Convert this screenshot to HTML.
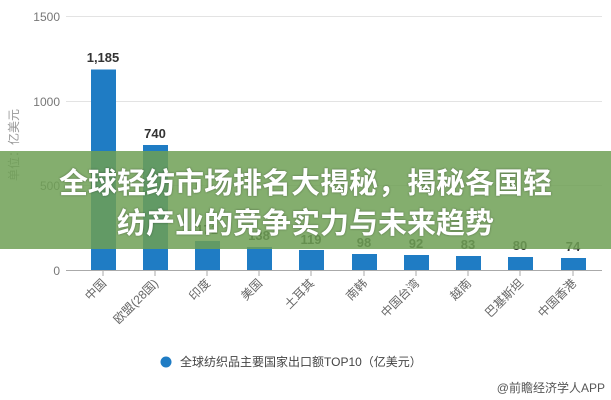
<!DOCTYPE html>
<html><head><meta charset="utf-8"><style>
body{margin:0;width:611px;height:400px;background:#fff;overflow:hidden;font-family:"Liberation Sans","Noto Sans CJK SC",sans-serif;position:relative}
svg{position:absolute;left:0;top:0}
.banner{position:absolute;left:0;top:151px;width:611px;height:98px;background:rgba(110,160,85,0.85);color:#fff;font-weight:bold;font-size:29px;line-height:40px;text-align:center;padding-top:10px;box-sizing:border-box;font-family:"Noto Sans CJK SC",sans-serif;text-shadow:0 0 2px rgba(0,0,0,0.4)}
</style></head><body>
<svg width="611" height="400" font-family="Liberation Sans, Noto Sans CJK SC, sans-serif">
<g stroke="#e3e3e3" stroke-width="1">
<line x1="66" x2="602" y1="16.5" y2="16.5"/><line x1="66" x2="602" y1="101.5" y2="101.5"/><line x1="66" x2="602" y1="185.5" y2="185.5"/>
</g>
<line x1="66" x2="602" y1="270.5" y2="270.5" stroke="#aaa"/>
<g fill="#777" font-size="12" text-anchor="end">
<text x="60" y="21">1500</text><text x="60" y="106">1000</text><text x="60" y="190">500</text><text x="60" y="275">0</text>
</g>
<text transform="translate(18,145) rotate(-90)" font-size="12" fill="#999" text-anchor="middle">单位：亿美元</text>
<g fill="#1f7cc4">
<rect x="91" y="69.5" width="25" height="200.5"/>
<rect x="143" y="145" width="25" height="125"/>
<rect x="195" y="241" width="25" height="29"/>
<rect x="247" y="247" width="25" height="23"/>
<rect x="299" y="250" width="25" height="20"/>
<rect x="352" y="254" width="25" height="16"/>
<rect x="404" y="255" width="25" height="15"/>
<rect x="456" y="256" width="25" height="14"/>
<rect x="508" y="257" width="25" height="13"/>
<rect x="561" y="258" width="25" height="12"/>
</g>
<g font-size="13" font-weight="bold" fill="#333" text-anchor="middle">
<text x="103" y="62">1,185</text><text x="155" y="138">740</text><text x="207" y="234">171</text><text x="259" y="240">138</text><text x="311" y="244">119</text><text x="364" y="247">98</text><text x="416" y="248">92</text><text x="468" y="249">83</text><text x="520" y="250">80</text><text x="573" y="251">74</text>
</g>
<g stroke="#aaa"><line x1="103" x2="103" y1="270" y2="276"/><line x1="155" x2="155" y1="270" y2="276"/><line x1="207" x2="207" y1="270" y2="276"/><line x1="259" x2="259" y1="270" y2="276"/><line x1="311" x2="311" y1="270" y2="276"/><line x1="364" x2="364" y1="270" y2="276"/><line x1="416" x2="416" y1="270" y2="276"/><line x1="468" x2="468" y1="270" y2="276"/><line x1="520" x2="520" y1="270" y2="276"/><line x1="573" x2="573" y1="270" y2="276"/></g>
<g font-size="12" fill="#666" text-anchor="end">
<text transform="translate(107,284) rotate(-45)">中国</text>
<text transform="translate(159,284) rotate(-45)">欧盟(28国)</text>
<text transform="translate(211,284) rotate(-45)">印度</text>
<text transform="translate(263,284) rotate(-45)">美国</text>
<text transform="translate(315,284) rotate(-45)">土耳其</text>
<text transform="translate(368,284) rotate(-45)">南韩</text>
<text transform="translate(420,284) rotate(-45)">中国台湾</text>
<text transform="translate(472,284) rotate(-45)">越南</text>
<text transform="translate(524,284) rotate(-45)">巴基斯坦</text>
<text transform="translate(577,284) rotate(-45)">中国香港</text>
</g>
<circle cx="166" cy="362" r="5.5" fill="#1f7cc4"/>
<text x="180" y="366" font-size="12" fill="#444">全球纺织品主要国家出口额TOP10（亿美元）</text>
<text x="605" y="392" font-size="12" fill="#555" text-anchor="end">@前瞻经济学人APP</text>
</svg>
<div class="banner">全球轻纺市场排名大揭秘，揭秘各国轻<br>纺产业的竞争实力与未来趋势</div>
</body></html>
